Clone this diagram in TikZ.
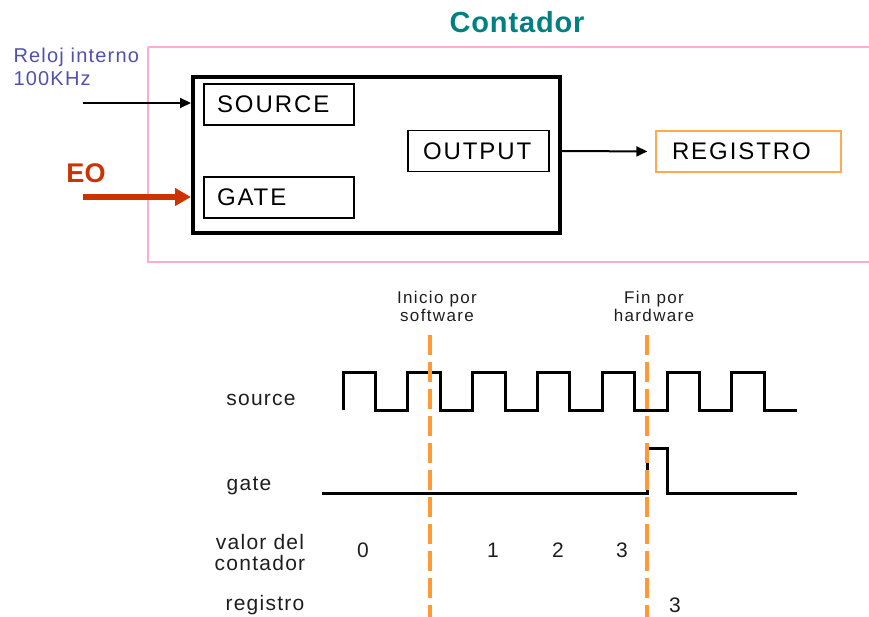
\documentclass[tikz,border=0pt]{standalone}
\usepackage{fontspec}
\setmainfont{Liberation Sans}
\usetikzlibrary{arrows.meta}

\definecolor{titleteal}{RGB}{0,128,128}
\definecolor{framepink}{RGB}{255,170,210}
\definecolor{regorange}{RGB}{255,170,80}
\definecolor{markorange}{RGB}{255,153,51}
\definecolor{eored}{RGB}{204,51,0}
\definecolor{clkblue}{RGB}{80,80,175}
\definecolor{labelgray}{RGB}{30,30,30}

\begin{document}
\begin{tikzpicture}[x=1pt,y=-1pt,
    inbox/.style ={draw, line width=1.3pt, minimum height=41pt, inner ysep=0pt, align=left,
                   font=\fontsize{24}{26}\selectfont\addfontfeature{LetterSpace=8}},
    counter/.style ={draw, line width=4pt, minimum width=367pt, minimum height=156pt},
    conn/.style ={line width=2pt, -{Triangle[length=11pt,width=10pt]}},
    eoarrow/.style ={eored, line width=6pt, -{Triangle[length=16pt,width=17pt]}},
    wave/.style ={line width=3pt, line join=miter},
    marker/.style ={markorange, line width=4pt, dash pattern=on 20pt off 7pt},
    sig/.style ={labelgray, align=center,
                 font=\fontsize{21}{21}\selectfont\addfontfeature{LetterSpace=6}},
    note/.style ={labelgray, align=center,
                  font=\fontsize{17}{18}\selectfont\addfontfeature{LetterSpace=8}}]
   \useasboundingbox (0,0) rectangle (869,617);

   % bloque del contador
   \draw[framepink, line width=1.5pt] (148,47) -- (880,47) (148,47) -- (148,262) -- (880,262);
   \node[titleteal, font=\fontsize{29}{30}\bfseries\addfontfeature{LetterSpace=3}] (title) at (517,22) {Contador};
   \node[counter] (main) at (376.5,155) {};
   \node[inbox, inner xsep=13pt, text width=124pt] (source) at (279,104.5) {SOURCE};
   \node[inbox, inner xsep=13pt, text width=124pt] (gate) at (279,197.5) {GATE};
   \node[inbox, inner xsep=15pt, text width=111pt] (output) at (478.5,151) {OUTPUT};
   \node[inbox, draw=regorange, inner xsep=16pt, text width=153pt] (registro) at (748.5,151.5) {REGISTRO};

   \node[clkblue, anchor=west, align=left,
         font=\fontsize{20}{23}\selectfont\addfontfeature{LetterSpace=6}] (clk label) at (10,67) {Reloj interno\\100KHz};
   \node[eored, font=\fontsize{27}{28}\bfseries] (eo label) at (86,173) {EO};

   \coordinate (clk) at (83,103);
   \coordinate (eo) at (83,197);
   \draw[conn] (clk) -- (clk -| main.west);
   \draw[eoarrow] (eo) -- (eo -| main.west);
   \draw[conn, shorten >=8pt] (output -| main.east) -- (registro.west);

   % diagrama de tiempos
   \node[sig] (source label) at (261,400) {source};
   \node[sig] (gate label) at (249,486) {gate};
   \node[sig] (valor label) at (260,552) {valor del\\contador};
   \node[sig] (reg label) at (265,605) {registro};

   \draw[wave] (343,410) \foreach \i in {0,...,6} {-- ++(0,-38) -- ++(32.4,0) -- ++(0,38) -- ++(32.4,0)};
   \draw[wave] (322,493) -- (647,493) -- (647,448) -- (667,448) -- (667,493) -- (797,493);

   \node[sig] (v0) at (363,550) {0};
   \node[sig] (v1) at (493,550) {1};
   \node[sig] (v2) at (558,550) {2};
   \node[sig] (v3) at (622,550) {3};
   \node[sig] (r3) at (675,605) {3};

   \node[note] (inicio) at (437,306) {Inicio por\\software};
   \node[note] (fin) at (654,306) {Fin por\\hardware};
   \coordinate (inicio top) at (430,335);
   \coordinate (fin top) at (647,335);
   \draw[marker] (inicio top) -- (inicio top |- 0,620);
   \draw[marker] (fin top) -- (fin top |- 0,620);
 \end{tikzpicture}
\end{document}
